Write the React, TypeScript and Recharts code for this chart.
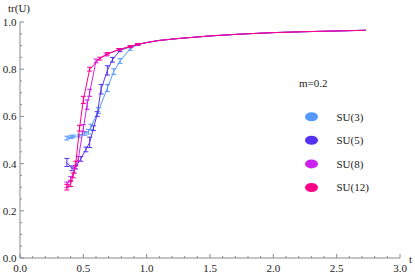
import React from 'react';
import { LineChart, Line, XAxis, YAxis, ErrorBar } from 'recharts';

const tailT = [1.0, 1.1, 1.25, 1.5, 1.75, 2.0, 2.25, 2.5, 2.73];
const tailY = [0.913, 0.922, 0.93, 0.941, 0.949, 0.955, 0.959, 0.962, 0.965];

const su3T = [0.37, 0.40, 0.42, 0.47, 0.51, 0.54, 0.56, 0.62, 0.69, 0.74, 0.79, 0.87, 0.93];
const su3Y = [0.508, 0.512, 0.515, 0.518, 0.528, 0.535, 0.555, 0.625, 0.72, 0.79, 0.835, 0.886, 0.905];
const su3E = [0.008, 0.006, 0.006, 0.006, 0.008, 0.01, 0.012, 0.012, 0.015, 0.012, 0.01, 0.006, 0.004];

const su5T = [0.37, 0.41, 0.44, 0.48, 0.52, 0.55, 0.58, 0.61, 0.64, 0.69, 0.73, 0.79, 0.87, 0.93];
const su5Y = [0.405, 0.38, 0.385, 0.42, 0.46, 0.49, 0.55, 0.61, 0.715, 0.795, 0.84, 0.88, 0.895, 0.905];
const su5E = [0.017, 0.01, 0.008, 0.01, 0.01, 0.022, 0.01, 0.01, 0.02, 0.02, 0.01, 0.006, 0.004, 0.003];

const su8T = [0.37, 0.40, 0.43, 0.46, 0.50, 0.53, 0.55, 0.60, 0.68, 0.78, 0.87, 0.93];
const su8Y = [0.31, 0.335, 0.37, 0.42, 0.55, 0.65, 0.70, 0.835, 0.862, 0.883, 0.895, 0.905];
const su8E = [0.012, 0.01, 0.01, 0.01, 0.015, 0.02, 0.015, 0.008, 0.006, 0.004, 0.003, 0.003];

const su12T = [0.37, 0.40, 0.42, 0.44, 0.47, 0.50, 0.55, 0.63, 0.69, 0.78, 0.87, 0.93];
const su12Y = [0.30, 0.315, 0.35, 0.40, 0.55, 0.67, 0.80, 0.845, 0.865, 0.883, 0.896, 0.905];
const su12E = [0.012, 0.012, 0.01, 0.01, 0.012, 0.015, 0.008, 0.006, 0.005, 0.004, 0.003, 0.003];

const seriesNames = ['SU(3)', 'SU(5)', 'SU(8)', 'SU(12)'];
const seriesColors = ['#5599ff', '#5533ee', '#cc22ee', '#ff0088'];

const xTickVals = Array.from({ length: 31 }, (_, i) => i / 10);
const yTickVals = Array.from({ length: 21 }, (_, i) => i / 20);

const build = (t: number[], y: number[], e: number[]) => [
  ...t.map((tv, i) => ({ t: tv, y: y[i], err: e[i] })),
  ...tailT.map((tv, i) => ({ t: tv, y: tailY[i], err: null })),
];

const seriesData = [
  build(su3T, su3Y, su3E),
  build(su5T, su5Y, su5E),
  build(su8T, su8Y, su8E),
  build(su12T, su12Y, su12E),
];

const FONT = '"Liberation Serif", "DejaVu Serif", "Noto Serif", FreeSerif, "Times New Roman", serif';
const AXIS = '#8a8a8a';
const TEXT = '#222';
const textStyle = { fontFamily: FONT, fontSize: 11 };

const XTick = (props: any) => {
  const { x, y, payload } = props;
  const v = payload.value;
  const major = Math.abs(v * 2 - Math.round(v * 2)) < 1e-6;
  return (
    <g>
      <line x1={x} x2={x} y1={y} y2={y - (major ? 4 : 2)} stroke={AXIS} strokeWidth={1} />
      {major && (
        <text x={x} y={y + 14} textAnchor="middle" style={textStyle} fill={TEXT}>
          {v.toFixed(1)}
        </text>
      )}
    </g>
  );
};

const YTick = (props: any) => {
  const { x, y, payload } = props;
  const v = payload.value;
  const major = Math.abs(v * 5 - Math.round(v * 5)) < 1e-6;
  return (
    <g>
      <line x1={x} x2={x + (major ? 4 : 2)} y1={y} y2={y} stroke={AXIS} strokeWidth={1} />
      {major && (
        <text x={x - 3.5} y={y + 4} textAnchor="end" style={textStyle} fill={TEXT}>
          {v.toFixed(1)}
        </text>
      )}
    </g>
  );
};

export default function App() {
  return (
    <div style={{ position: 'absolute', left: 0, top: 0, width: 415, height: 277, background: '#fff', fontFamily: FONT }}>
      <LineChart
        width={415}
        height={277}
        margin={{ top: 22, right: 15, left: 0, bottom: 0 }}
        style={{ fontFamily: FONT }}
      >
        <XAxis
          dataKey="t"
          type="number"
          domain={[0, 3]}
          ticks={xTickVals}
          interval={0}
          tickSize={0}
          tickMargin={0}
          height={19}
          stroke={AXIS}
          tick={<XTick />}
          allowDuplicatedCategory={false}
        />
        <YAxis
          type="number"
          domain={[0, 1]}
          ticks={yTickVals}
          interval={0}
          tickSize={0}
          tickMargin={0}
          width={20}
          stroke={AXIS}
          tick={<YTick />}
        />
        {seriesData.map((d, i) => (
          <Line
            key={seriesNames[i]}
            data={d}
            dataKey="y"
            name={seriesNames[i]}
            stroke={seriesColors[i]}
            strokeWidth={1}
            dot={false}
            activeDot={false}
            isAnimationActive={false}
          >
            <ErrorBar dataKey="err" width={2.5} stroke={seriesColors[i]} strokeWidth={1} direction="y" />
          </Line>
        ))}
      </LineChart>
      <svg
        width={415}
        height={277}
        style={{ position: 'absolute', left: 0, top: 0, pointerEvents: 'none' }}
      >
        <text x={19} y={12} textAnchor="middle" style={textStyle} fill={TEXT}>tr(U)</text>
        <text x={409} y={263} style={textStyle} fill={TEXT}>t</text>
        <text x={299} y={86.5} style={textStyle} fill={TEXT}>m=0.2</text>
        {seriesNames.map((n, i) => (
          <g key={n}>
            <ellipse cx={311.5} cy={116.7 + i * 23.6} rx={6.5} ry={4.5} fill={seriesColors[i]} />
            <text x={336.5} y={120.5 + i * 23.6} style={textStyle} fill={TEXT}>{n}</text>
          </g>
        ))}
      </svg>
    </div>
  );
}
